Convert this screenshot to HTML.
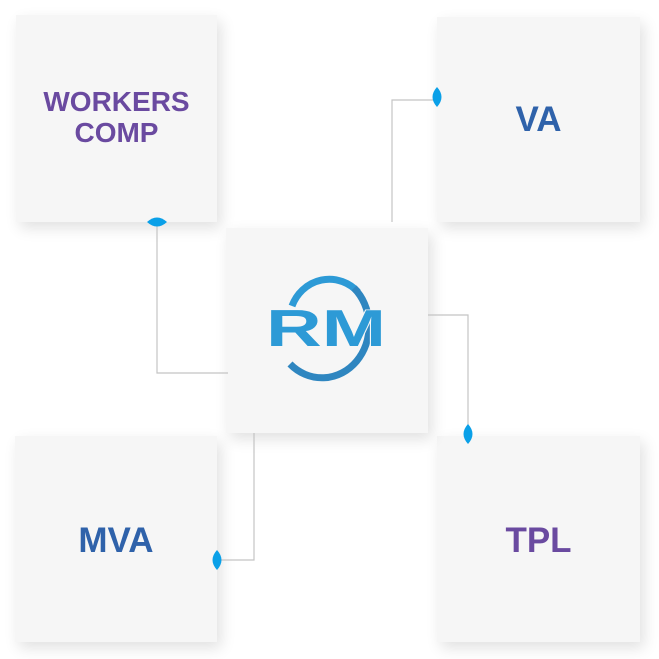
<!DOCTYPE html>
<html><head><style>
body{margin:0;width:659px;height:659px;background:#fff;position:relative;overflow:hidden;font-family:"Liberation Sans",sans-serif}
.b{position:absolute;background:#f6f6f6;box-shadow:4px 6px 14px rgba(0,0,0,0.12);display:flex;align-items:center;justify-content:center;text-align:center;font-weight:bold;font-size:30px;line-height:31px}
.p{color:#6a4aa0}.bl{color:#2f62aa}
svg{position:absolute;left:0;top:0}
</style></head><body>
<div class="b p" style="left:16px;top:15px;width:201px;height:207px;font-size:28px;padding-bottom:3px;box-sizing:border-box">WORKERS<br>COMP</div>
<div class="b bl" style="left:437px;top:17px;width:203px;height:205px;font-size:35px">VA</div>
<div class="b bl" style="left:15px;top:436px;width:202px;height:206px;font-size:35px;padding-top:2px;box-sizing:border-box">MVA</div>
<div class="b p" style="left:437px;top:436px;width:203px;height:206px;font-size:35px;padding-top:2px;box-sizing:border-box">TPL</div>
<div class="b" style="left:226px;top:228px;width:202px;height:205px"></div>
<svg width="659" height="659" viewBox="0 0 659 659">
<g fill="none" stroke="#c4c4c4" stroke-width="1.2">
<polyline points="392,222 392,100 437,100"/>
<polyline points="157,222 157,373 228,373"/>
<polyline points="428,315 468,315 468,435"/>
<polyline points="254,433 254,560 217,560"/>
</g>
<g fill="#0aa0e8">
<path d="M437,87 Q446,97 437,107 Q428,97 437,87Z"/>
<path d="M147,222 Q157,213 167,222 Q157,231 147,222Z"/>
<path d="M468,424 Q477,434 468,444 Q459,434 468,424Z"/>
<path d="M217,550 Q226,560 217,570 Q208,560 217,550Z"/>
</g>
<g fill="none" stroke-width="7">
<path d="M292,306 A40,42 0 0 1 358,292" stroke="#2d9ad6"/>
<path d="M354,288 A40,44 0 0 1 290,364" stroke="#2f86c0"/>
</g>
<text x="266" y="346" font-family="Liberation Sans,sans-serif" font-weight="bold" font-size="52" fill="#2d9ad6" stroke="#f6f6f6" stroke-width="1.5" paint-order="stroke" textLength="120" lengthAdjust="spacingAndGlyphs">RM</text>
</svg>
</body></html>
